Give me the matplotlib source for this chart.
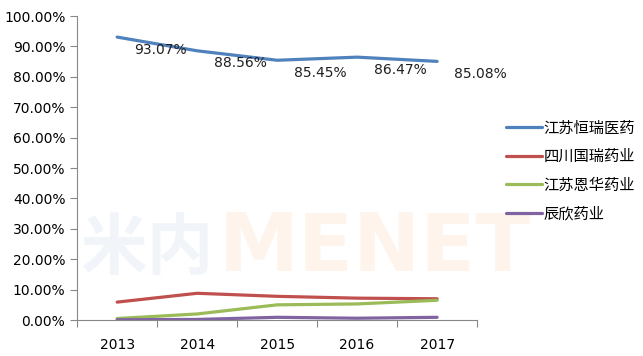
import matplotlib.pyplot as plt
from matplotlib.ticker import FuncFormatter

years = ["2013", "2014", "2015", "2016", "2017"]
hengrui = [93.07, 88.56, 85.45, 86.47, 85.08]
sichuan = [5.9, 8.8, 7.8, 7.2, 7.0]
enhua = [0.5, 2.0, 5.0, 5.3, 6.5]
chenxin = [0.1, 0.2, 0.9, 0.6, 0.9]
names = ["江苏恒瑞医药", "四川国瑞药业", "江苏恩华药业", "辰欣药业"]
colors = ["#4F81BD", "#C0504D", "#9BBB59", "#8064A2"]


def main():
    plt.rcParams['font.family'] = ['Noto Sans CJK SC', 'DejaVu Sans']
    fig = plt.figure(figsize=(6.43, 3.56), dpi=100)
    ax = fig.add_axes([0.12, 0.101, 0.622, 0.854])

    # faint watermark
    fig.text(0.125, 0.30, "米内", fontsize=48, color="#4F81BD", alpha=0.08,
             fontweight="bold", va="center")
    fig.text(0.34, 0.30, "MENET", fontsize=58, color="#F79646", alpha=0.10,
             fontweight="bold", va="center", family="DejaVu Sans")

    x = list(range(len(years)))
    for vals, name, c in zip([hengrui, sichuan, enhua, chenxin], names, colors):
        ax.plot(x, vals, color=c, lw=2.3, label=name, solid_capstyle="round")

    for xi, v in zip(x, hengrui):
        ax.annotate(f"{v:.2f}%", (xi, v), xytext=(12, -9), textcoords="offset points",
                    ha="left", va="center", fontsize=10, family="DejaVu Sans",
                    color="#202020")

    ax.set_xlim(-0.5, 4.5)
    ax.set_ylim(0, 100)
    ax.set_yticks(range(0, 101, 10))
    ax.yaxis.set_major_formatter(FuncFormatter(lambda v, p: f"{v:.2f}%"))
    ax.set_xticks([i - 0.5 for i in range(6)])
    ax.set_xticklabels([])
    ax.set_xticks(x, minor=True)
    ax.set_xticklabels(years, minor=True)
    ax.tick_params(axis="x", which="major", length=5, color="#888888")
    ax.tick_params(axis="x", which="minor", length=0, pad=13, labelsize=10)
    ax.tick_params(axis="y", length=5, color="#888888", labelsize=10)
    for lbl in ax.get_xticklabels(minor=True) + ax.get_yticklabels():
        lbl.set_family("DejaVu Sans")

    for s in ["top", "right"]:
        ax.spines[s].set_visible(False)
    for s in ["left", "bottom"]:
        ax.spines[s].set_color("#888888")

    fig.legend(loc="center left", bbox_to_anchor=(0.765, 0.52), frameon=False,
               fontsize=11, handlelength=2.4, handletextpad=0.1, labelspacing=0.75)

    fig.savefig("out.png", dpi=100)
    plt.close(fig)


if __name__ == "__main__":
    main()
